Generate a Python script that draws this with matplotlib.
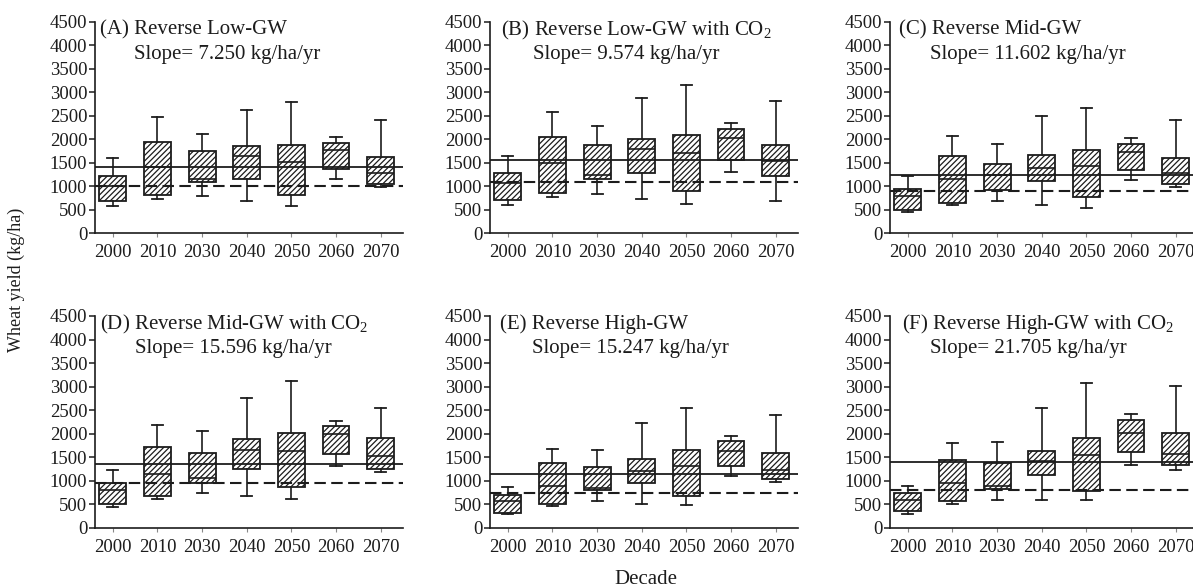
import matplotlib
matplotlib.use("Agg")
import matplotlib.pyplot as plt

# ---- data -------------------------------------------------------------
decades = ["2000", "2010", "2030", "2040", "2050", "2060", "2070"]

panel_titles = [
    "(A) Reverse Low-GW",
    "(B) Reverse Low-GW with CO$_2$",
    "(C) Reverse Mid-GW",
    "(D) Reverse Mid-GW with CO$_2$",
    "(E) Reverse High-GW",
    "(F) Reverse High-GW with CO$_2$",
]
slopes = ["7.250", "9.574", "11.602", "15.596", "15.247", "21.705"]

# overall mean (solid) and 2000-decade reference level (dashed), kg/ha
mean_yield = [1400, 1560, 1232, 1364, 1155, 1396]
baseline_yield = [1000, 1085, 904, 954, 744, 801]

A_whislo = [575, 730, 783, 676, 570, 1153, 982]
A_q1 = [688, 815, 1080, 1150, 819, 1367, 1040]
A_med = [1000, 1410, 1150, 1648, 1509, 1780, 1285]
A_q3 = [1220, 1940, 1755, 1846, 1887, 1922, 1625]
A_whishi = [1598, 2470, 2122, 2613, 2791, 2050, 2420]

B_whislo = [588, 766, 830, 730, 624, 1297, 674]
B_q1 = [695, 851, 1149, 1276, 886, 1560, 1205]
B_med = [1064, 1503, 1241, 1794, 1702, 2021, 1530]
B_q3 = [1276, 2056, 1872, 2014, 2092, 2226, 1886]
B_whishi = [1645, 2574, 2283, 2886, 3148, 2340, 2822]

C_whislo = [441, 605, 676, 605, 534, 1139, 982]
C_q1 = [498, 641, 926, 1104, 769, 1339, 1054]
C_med = [783, 1150, 1230, 1388, 1438, 1730, 1282]
C_q3 = [940, 1638, 1481, 1673, 1780, 1901, 1595]
C_whishi = [1210, 2079, 1901, 2492, 2670, 2029, 2406]

D_whislo = [445, 615, 742, 671, 615, 1321, 1180]
D_q1 = [516, 671, 954, 1250, 869, 1568, 1250]
D_med = [812, 1152, 1060, 1646, 1625, 2000, 1519]
D_q3 = [954, 1717, 1590, 1886, 2014, 2169, 1908]
D_whishi = [1236, 2190, 2049, 2755, 3123, 2275, 2543]

E_whislo = [305, 475, 567, 517, 496, 1098, 978]
E_q1 = [320, 520, 800, 957, 687, 1325, 1042]
E_med = [563, 890, 845, 1215, 1311, 1630, 1240]
E_q3 = [705, 1385, 1290, 1467, 1651, 1843, 1595]
E_whishi = [868, 1682, 1660, 2227, 2551, 1963, 2388]

F_whislo = [305, 517, 602, 588, 588, 1347, 1240]
F_q1 = [354, 567, 829, 1120, 787, 1609, 1347]
F_med = [588, 957, 886, 1417, 1545, 2006, 1573]
F_q3 = [744, 1453, 1382, 1630, 1913, 2282, 2020]
F_whishi = [886, 1807, 1821, 2551, 3069, 2410, 3012]

panels = [
    (A_whislo, A_q1, A_med, A_q3, A_whishi),
    (B_whislo, B_q1, B_med, B_q3, B_whishi),
    (C_whislo, C_q1, C_med, C_q3, C_whishi),
    (D_whislo, D_q1, D_med, D_q3, D_whishi),
    (E_whislo, E_q1, E_med, E_q3, E_whishi),
    (F_whislo, F_q1, F_med, F_q3, F_whishi),
]

# ---- style ------------------------------------------------------------
INK = "#1c1c1c"
plt.rcParams["font.family"] = ["Liberation Serif", "DejaVu Serif"]
plt.rcParams["mathtext.fontset"] = "custom"
plt.rcParams["mathtext.rm"] = "Liberation Serif"
plt.rcParams["mathtext.default"] = "regular"
plt.rcParams["hatch.linewidth"] = 0.9
plt.rcParams["hatch.color"] = INK

W, H = 1193, 588
fig = plt.figure(figsize=(W / 100, H / 100), dpi=100)
fig.patch.set_facecolor("white")

# axes frames in pixels: (left, bottom-of-axis y from top, axis height)
col_left = [95, 490, 890]
row_zero = [233, 528]
row_height = [211, 212]
ax_width = 308

# title placement inside each panel (axes fraction)
title_x = [0.015, 0.036, 0.03, 0.016, 0.033, 0.04]
slope_x = [0.128, 0.14, 0.13, 0.13, 0.136, 0.13]

positions = list(range(len(decades)))

for i, (lo, q1, med, q3, hi) in enumerate(panels):
    r, c = divmod(i, 3)
    left = col_left[c] / W
    bottom = 1 - row_zero[r] / H
    ax = fig.add_axes([left, bottom, ax_width / W, row_height[r] / H])

    stats = [
        dict(whislo=lo[k], q1=q1[k], med=med[k], q3=q3[k], whishi=hi[k], fliers=[])
        for k in range(len(decades))
    ]
    ax.bxp(
        stats, positions=positions, widths=0.6, capwidths=0.25,
        showfliers=False, patch_artist=True,
        boxprops=dict(facecolor="white", edgecolor=INK, linewidth=1.3,
                      hatch="//////"),
        medianprops=dict(color=INK, linewidth=1.2),
        whiskerprops=dict(color=INK, linewidth=1.2),
        capprops=dict(color=INK, linewidth=1.3),
        zorder=2,
    )

    ax.axhline(mean_yield[i], color=INK, linewidth=1.3, zorder=3)
    ax.axhline(baseline_yield[i], color=INK, linewidth=1.5,
               dashes=(5.5, 2.6), zorder=3)

    ax.set_xlim(-0.4, 6.5)
    ax.set_ylim(0, 4500)
    ax.set_yticks(range(0, 4501, 500))
    ax.set_xticks(positions)
    ax.set_xticklabels(decades)

    for side in ("top", "right"):
        ax.spines[side].set_visible(False)
    for side in ("left", "bottom"):
        ax.spines[side].set_color(INK)
        ax.spines[side].set_linewidth(1.2)
    ax.tick_params(axis="y", direction="out", length=4, width=1.1,
                   colors=INK, labelsize=13.5, pad=1.5)
    ax.tick_params(axis="x", direction="out", length=3, width=0.8,
                   color="#888888", labelcolor=INK, labelsize=13.5, pad=5)

    ax.text(title_x[i], 0.962, panel_titles[i], transform=ax.transAxes,
            ha="left", va="center", fontsize=15, color=INK)
    ax.text(slope_x[i], 0.845, f"Slope= {slopes[i]} kg/ha/yr",
            transform=ax.transAxes, ha="left", va="center",
            fontsize=15, color=INK)

fig.text(16 / W, 1 - 280 / H, "Wheat yield (kg/ha)", rotation=90,
         ha="center", va="center", fontsize=13, color=INK)
fig.text(646 / W, 1 - 580 / H, "Decade", ha="center", va="center",
         fontsize=15, color=INK)

fig.savefig("out.png", dpi=100)
